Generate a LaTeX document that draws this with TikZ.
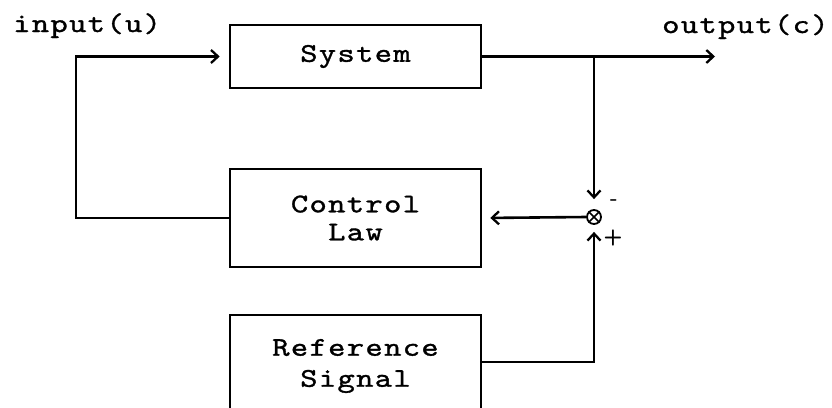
\documentclass[tikz,border=0pt]{standalone}
\usepackage{fontspec}
\usetikzlibrary{arrows.meta}
\newfontfamily\mymono{lmmono10-regular.otf}[FakeStretch=1.22,LetterSpace=5,FakeBold=1.2]
\newcommand\monotxt{\mymono\fontsize{27}{28}\selectfont}
\tikzset{
 blk/.style={draw,line width=2.6pt,minimum width=251pt,align=center,inner sep=0pt,font=\monotxt},
 wire/.style={line width=2.6pt},
 arr/.style={wire,-{Straight Barb[length=7pt,width=13pt,line width=2.3pt]}},
 lbl/.style={font=\monotxt,inner sep=0pt,anchor=base west},
 sgn/.style={font=\sffamily\bfseries\fontsize{22}{22}\selectfont,inner sep=0pt},
}
\begin{document}
\begin{tikzpicture}[x=1pt,y=-1pt]
\useasboundingbox (0,0) rectangle (832,407);
\clip (0,0) rectangle (832,407);
\node[blk,minimum height=63pt] (sys) at (355.5,56.5) {System};
\node[blk,minimum height=98pt] (ctl) at (355.5,218) {Control\\Law};
\node[blk,minimum height=102pt] (ref) at (355.5,366) {Reference\\[3pt]Signal};
\node[circle,draw,line width=1.8pt,minimum size=14pt,inner sep=0pt] (sum) at (594,217) {};
\draw[line width=1.5pt] (sum.north west) -- (sum.south east) (sum.north east) -- (sum.south west);
\coordinate (cin) at (76,56.5);
\coordinate (br) at (594,56.5);
\coordinate (out) at (715,56.5);
\draw[arr,shorten >=9pt] (ctl.west) -| (cin) -- (sys.west);
\draw[arr] (sys.east) -- (out);
\draw[arr,shorten >=10pt] (br) -- (sum.north);
\draw[arr,shorten >=8pt] (sum.west) -- (ctl.east);
\draw[arr,shorten >=7pt] ([yshift=4pt]ref.east) -| (sum.south);
\node[sgn] (mn) at (614,203) {-};
\node[sgn] (pl) at (613,238) {+};
\node[lbl] (inl) at (13,32) {input(u)};
\node[lbl] (outl) at (662,33) {output(c)};
\end{tikzpicture}
\end{document}
